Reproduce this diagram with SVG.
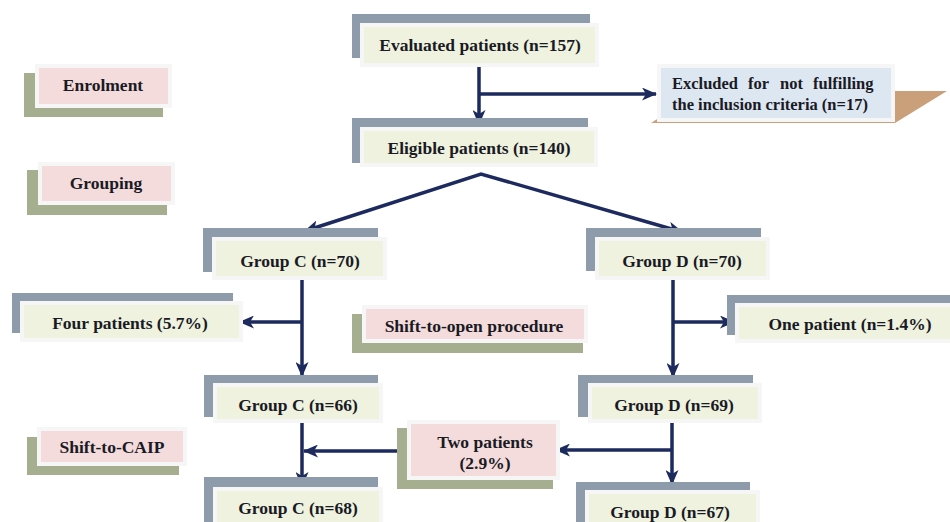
<svg xmlns="http://www.w3.org/2000/svg" width="950" height="522" viewBox="0 0 950 522" font-family="'Liberation Serif', 'Times New Roman', serif">
<defs>
<style>
.gs{fill:#8e9bab}
.gr{fill:#a5ae8e}
.bx{fill:#eef2df;stroke:#f6f6f6;stroke-width:4}
.pk{fill:#f4dcdc;stroke:#f6f6f6;stroke-width:4}
.bl{fill:#dde7f2;stroke:#f6f6f6;stroke-width:4}
text{font-family:'Liberation Serif','Times New Roman',serif;font-weight:bold;font-size:17.5px;fill:#1a1a24;text-anchor:middle}
.c{fill:none;stroke:#1d2a5d;stroke-width:3.5}
</style>
<marker id="ah" markerUnits="userSpaceOnUse" markerWidth="15" markerHeight="13" refX="14" refY="6.5" orient="auto-start-reverse">
<path d="M0,0 L15,6.5 L0,13 L4,6.5 z" fill="#1d2a5d"/>
</marker>
</defs>
<rect width="950" height="522" fill="#ffffff"/>

<g id="connectors">
<path class="c" d="M479,66 V124" marker-end="url(#ah)"/>
<path class="c" d="M479,94 H656" marker-end="url(#ah)"/>
<path class="c" d="M305,231 L481,174 L682,232" marker-start="url(#ah)" marker-end="url(#ah)"/>
<path class="c" d="M302,280 V376" marker-end="url(#ah)"/>
<path class="c" d="M302,322 H240" marker-end="url(#ah)"/>
<path class="c" d="M673,280 V377" marker-end="url(#ah)"/>
<path class="c" d="M673,322 H734" marker-end="url(#ah)"/>
<path class="c" d="M302,423 V486" marker-end="url(#ah)"/>
<path class="c" d="M397,451 H304" marker-end="url(#ah)"/>
<path class="c" d="M672,423 V484" marker-end="url(#ah)"/>
<path class="c" d="M672,450 H556" marker-end="url(#ah)"/>
</g>

<g id="evaluated">
<rect class="gs" x="352" y="14" width="238" height="44"/>
<rect class="bx" x="362" y="25" width="235" height="40"/>
<text x="480" y="51">Evaluated patients (n=157)</text>
</g>

<g id="excluded">
<polygon points="700,91 947,91 895,123 651,123" fill="#c9a07a"/>
<rect class="bl" x="659" y="66" width="234" height="54"/>
<text x="672" y="89" style="text-anchor:start;font-size:16.5px"><tspan x="672">Excluded</tspan><tspan x="748">for</tspan><tspan x="780">not</tspan><tspan x="813">fulfilling</tspan></text>
<text x="672" y="110" style="text-anchor:start;font-size:16.5px">the inclusion criteria (n=17)</text>
</g>

<g id="eligible">
<rect class="gs" x="352" y="118" width="236" height="45"/>
<rect class="bx" x="362" y="129" width="234" height="36"/>
<text x="479" y="154">Eligible patients (n=140)</text>
</g>

<g id="enrolment">
<rect class="gr" x="24" y="73" width="139" height="44"/>
<rect class="pk" x="37" y="66" width="133" height="40"/>
<text x="103" y="91">Enrolment</text>
</g>

<g id="grouping">
<rect class="gr" x="27" y="170" width="140" height="45"/>
<rect class="pk" x="40" y="164" width="133" height="39"/>
<text x="106" y="189">Grouping</text>
</g>

<g id="groupC70">
<rect class="gs" x="203" y="228" width="175" height="44"/>
<rect class="bx" x="214" y="239" width="171" height="39"/>
<text x="300" y="267">Group C (n=70)</text>
</g>

<g id="groupD70">
<rect class="gs" x="586" y="228" width="175" height="43"/>
<rect class="bx" x="597" y="239" width="171" height="39"/>
<text x="682" y="267">Group D (n=70)</text>
</g>

<g id="fourPatients">
<rect class="gs" x="12" y="293" width="221" height="40"/>
<rect class="bx" x="22" y="303" width="219" height="37"/>
<text x="130" y="329">Four patients (5.7%)</text>
</g>

<g id="shiftOpen">
<rect class="gr" x="352" y="314" width="231" height="39"/>
<rect class="pk" x="364" y="307" width="222" height="34"/>
<text x="474" y="332">Shift-to-open procedure</text>
</g>

<g id="onePatient">
<rect class="gs" x="727" y="295" width="230" height="40"/>
<rect class="bx" x="737" y="305" width="220" height="36"/>
<text x="850" y="330">One patient (n=1.4%)</text>
</g>

<g id="groupC66">
<rect class="gs" x="204" y="375" width="174" height="42"/>
<rect class="bx" x="215" y="385" width="166" height="36"/>
<text x="298" y="411">Group C (n=66)</text>
</g>

<g id="groupD69">
<rect class="gs" x="578" y="375" width="175" height="42"/>
<rect class="bx" x="590" y="385" width="170" height="36"/>
<text x="674" y="411">Group D (n=69)</text>
</g>

<g id="shiftCAIP">
<rect class="gr" x="27" y="437" width="152" height="38"/>
<rect class="pk" x="39" y="429" width="146" height="35"/>
<text x="112" y="453">Shift-to-CAIP</text>
</g>

<g id="twoPatients">
<rect class="gr" x="397" y="428" width="156" height="61"/>
<rect class="pk" x="409" y="422" width="149" height="56"/>
<text x="485" y="448">Two patients</text>
<text x="485" y="469">(2.9%)</text>
</g>

<g id="groupC68">
<rect class="gs" x="204" y="477" width="174" height="50"/>
<rect class="bx" x="215" y="489" width="166" height="40"/>
<text x="298" y="514">Group C (n=68)</text>
</g>

<g id="groupD67">
<rect class="gs" x="576" y="482" width="174" height="50"/>
<rect class="bx" x="587" y="492" width="171" height="40"/>
<text x="670" y="518">Group D (n=67)</text>
</g>
</svg>
